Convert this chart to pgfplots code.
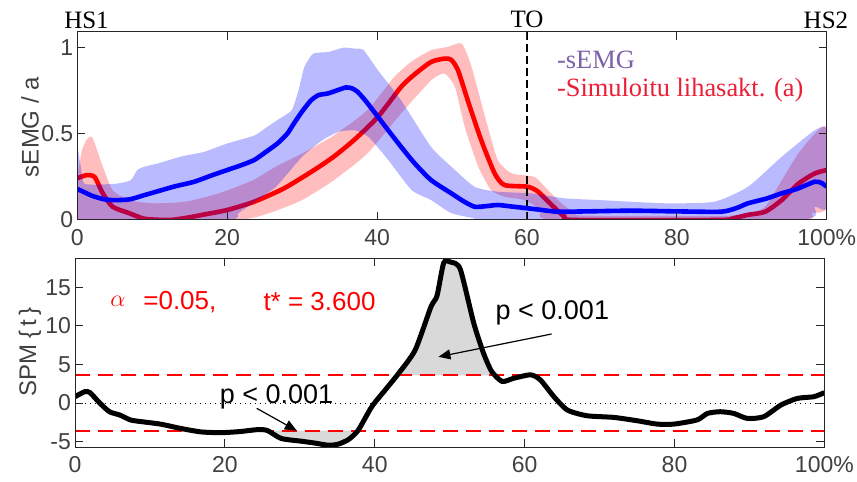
\documentclass[border=0pt]{standalone}
\usepackage{pgfplots}
\pgfplotsset{compat=1.18}
\usetikzlibrary{arrows.meta}
\usepackage{fontspec}
\setmainfont{Liberation Serif}
\newfontfamily\arial{Liberation Sans}
\definecolor{tickgray}{RGB}{64,64,64}
\definecolor{axgray}{RGB}{38,38,38}
\definecolor{semgpurple}{RGB}{125,95,170}
\definecolor{simred}{RGB}{235,30,55}
\definecolor{spmfill}{RGB}{217,217,217}
\definecolor{thrred}{RGB}{255,0,0}

\pgfplotstableread{
x y
0 0.18
1 0.16
2 0.14
3.6 0.12
5 0.115
7 0.12
9 0.145
11 0.17
13 0.195
15.6 0.222
18 0.26
20 0.29
22 0.32
23.6 0.348
25 0.39
26.7 0.444
28 0.50
28.9 0.56
30 0.63
31.2 0.695
32.2 0.725
33.4 0.734
34.5 0.75
35.8 0.769
36.6 0.765
37.4 0.744
38.5 0.69
40.1 0.60
41.5 0.52
43.2 0.425
45 0.33
47.2 0.232
49.9 0.155
51.5 0.11
53 0.077
54.5 0.08
56.1 0.087
58 0.078
60.1 0.068
62 0.058
64.1 0.048
68 0.05
73.9 0.054
80 0.05
85.9 0.048
88 0.07
89.5 0.097
92 0.125
94 0.155
96 0.18
98.4 0.222
99.3 0.215
100 0.193
}\semgmean

% sEMG band: upper edge forward, then lower edge backward
\pgfplotstableread{
x y
0 0.44
0.5 0.30
1 0.21
5 0.21
7.1 0.23
8 0.29
9 0.31
10.9 0.33
14 0.37
16.9 0.395
20 0.444
23.6 0.49
25 0.53
26.7 0.58
28.6 0.637
29.5 0.75
30.3 0.888
31.5 0.966
33.5 0.975
35.5 1.0
37 0.995
38.2 0.986
40.1 0.87
43.2 0.695
47.2 0.425
49.9 0.31
53 0.193
56.1 0.164
60.5 0.155
65 0.126
69.5 0.116
78.4 0.097
85 0.106
89.5 0.193
94 0.367
98.4 0.52
100 0.52
100 0.075
98.4 0.077
96 0
55 0
53 0.01
49.9 0.04
47.2 0.116
44.6 0.174
41.5 0.348
38.9 0.48
37.1 0.52
34.9 0.512
32.7 0.463
30 0.367
26.5 0.193
23.4 0.097
21.5 0.04
20 0
0 0
}\semgband

\pgfplotstableread{
x y
0 0.242
1.2 0.26
2.3 0.25
3.4 0.155
4.7 0.077
6.9 0.04
8.7 0.01
10 0.003
12.3 0
14.5 0.012
16.7 0.03
20 0.058
23.6 0.106
27.6 0.184
31.6 0.29
34.2 0.367
36.9 0.463
40.1 0.598
43.2 0.772
45 0.845
47.2 0.917
49 0.937
49.9 0.93
50.8 0.869
52.1 0.695
53.9 0.463
55.7 0.27
57 0.203
60.1 0.193
61.5 0.164
63.3 0.087
65 0.02
66.4 0
85.5 0
87.5 0.01
89.5 0.03
91.8 0.048
94 0.116
96.2 0.21
98.4 0.27
100 0.29
}\simmean

% simulated activation band: upper edge forward, then lower edge backward
\pgfplotstableread{
x y
0 0.25
0.6 0.40
1.2 0.463
2 0.48
3.4 0.31
4.7 0.174
6.9 0.116
10 0.097
14.4 0.106
18.9 0.155
23.4 0.23
26.5 0.31
30 0.386
34.2 0.49
38.7 0.637
42.3 0.83
44.6 0.92
47.2 0.985
49.4 1.004
51.3 1.024
52.6 0.89
54.4 0.60
56.1 0.348
58 0.27
61 0.25
62.8 0.174
64.6 0.097
66.4 0.04
68 0.025
88 0.025
90 0.04
91.8 0.077
94 0.23
96.2 0.386
98.4 0.50
100 0.53
100 0.077
98 0.04
96.2 0
63.7 0
61.9 0.058
59.7 0.116
57 0.135
55.2 0.174
53.5 0.31
51.7 0.54
50.4 0.772
49 0.85
47.2 0.81
43.2 0.618
38.7 0.386
34.2 0.23
30 0.116
25.6 0.04
21 0
0 0
}\simband

\pgfplotstableread{
x y
0 0.82
1.3 1.47
2.0 1.35
3.3 0
4.6 -1.13
6.0 -1.57
7.4 -2.2
8.7 -2.4
11.4 -2.74
14.1 -3.3
16.8 -3.75
19.5 -3.85
22.1 -3.7
24.4 -3.45
25.7 -3.58
27.5 -4.6
30.2 -4.96
32.0 -5.2
33.8 -5.48
35.1 -5.35
36.5 -4.74
37.8 -3.52
39.6 -0.48
41.4 1.7
43.2 3.87
45.4 6.9
47.5 12.5
48.3 13.9
49.2 18.2
50.1 18.3
51.4 17.4
53.2 10.4
54.5 6.5
55.6 4.1
57.0 2.8
58.5 3.2
60.8 3.66
62.1 3.0
63.9 0.83
65.7 -0.91
68.3 -1.65
71.9 -1.87
75.0 -2.3
77.7 -2.74
79.9 -2.74
83.0 -2.2
84.4 -1.35
86.1 -1.13
87.9 -1.35
89.7 -2.0
91.9 -1.78
94.2 -0.26
96.4 0.6
98.6 0.82
100 1.35
}\spm

\pgfplotstableread{
x y
43.0 3.6
43.2 3.87
45.4 6.9
47.5 12.5
48.3 13.9
49.2 18.2
50.1 18.3
51.4 17.4
53.2 10.4
54.5 6.5
55.6 4.1
56.0 3.6
}\clusterpos

\pgfplotstableread{
x y
25.9 -3.6
27.5 -4.6
30.2 -4.96
32.0 -5.2
33.8 -5.48
35.1 -5.35
36.5 -4.74
37.7 -3.6
}\clusterneg

\pgfplotstableread{
x lo hi
0 -3.6 3.6
100 -3.6 3.6
}\thresholds

\pgfplotsset{
  mystyle/.style={
    scale only axis, width=374.7pt,
    clip mode=individual,
    xmin=0, xmax=100,
    xtick={0,20,40,60,80,100}, xticklabels={0,20,40,60,80,100\%},
    tick align=inside, major tick length=4pt,
    tick style={axgray, line width=0.5pt},
    axis line style={axgray, line width=0.5pt},
    tick label style={font=\arial\fontsize{11.5}{13}\selectfont, text=tickgray},
    xticklabel style={yshift=-1pt},
    yticklabel style={xshift=1.5pt},
    axis on top,
  }
}

\begin{document}
\begin{tikzpicture}
\useasboundingbox (0pt,0pt) rectangle (428.5pt,241pt);

% ---------- top axis ----------
\begin{axis}[mystyle, at={(38.65pt,131pt)}, anchor=south west,
  height=94.15pt, ymin=0, ymax=1.093,
  ytick={0,0.5,1}, yticklabels={0,0.5,1}]
  \addplot [fill=red, fill opacity=0.26, draw=none, smooth, tension=0.35] table {\simband} -- cycle;
  \addplot [red, line width=2.3pt, smooth, tension=0.4] table {\simmean};
  \addplot [fill=blue, fill opacity=0.27, draw=none, smooth, tension=0.35] table {\semgband} -- cycle;
  \addplot [black, line width=1pt, dash pattern=on 4pt off 2pt] coordinates {(60,0) (60,1.093)};
  \addplot [blue, line width=2.3pt, smooth, tension=0.4] table {\semgmean};
  % annotations
  \node[font=\fontsize{12.5}{14}\selectfont] at (axis cs:1.23,1.16) {HS1};
  \node[font=\fontsize{12.5}{14}\selectfont] at (axis cs:60,1.165) {TO};
  \node[font=\fontsize{12.5}{14}\selectfont] at (axis cs:99.9,1.16) {HS2};
  \node[anchor=west, inner sep=0pt, text=semgpurple, font=\fontsize{13.2}{15}\selectfont] at (axis cs:63.97,0.929) {-sEMG};
  \node[anchor=west, inner sep=0pt, text=simred, font=\fontsize{13.2}{15}\selectfont] at (axis cs:63.97,0.754) {-Simuloitu lihasakt. (a)};
\end{axis}

% ---------- bottom axis ----------
\begin{axis}[mystyle, at={(37.5pt,17.35pt)}, anchor=south west,
  height=94.5pt, ymin=-5.75, ymax=18.79,
  ytick={-5,0,5,10,15}, yticklabels={-5,0,5,10,15}]
  \addplot [fill=spmfill, draw=none, smooth, tension=0.4] table {\clusterpos} -- cycle;
  \addplot [fill=spmfill, draw=none, smooth, tension=0.4] table {\clusterneg} -- cycle;
  \addplot [draw=thrred, line width=1pt, dash pattern=on 7.5pt off 4pt] table[x=x, y=lo] {\thresholds};
  \addplot [draw=thrred, line width=1pt, dash pattern=on 7.5pt off 4pt] table[x=x, y=hi] {\thresholds};
  \addplot [black, line width=0.5pt, dotted] coordinates {(0,0) (100,0)};
  \addplot [black, line width=2.5pt, smooth, tension=0.4] table {\spm};
  % annotations
  \node[anchor=west, inner sep=0pt, text=red, font=\fontsize{13}{15}\selectfont] at (axis cs:4.67,13.16) {$\alpha$};
  \node[anchor=west, inner sep=0pt, text=red, font=\arial\fontsize{13}{15}\selectfont] at (axis cs:9.07,13.16) {=0.05,};
  \node[anchor=west, inner sep=0pt, text=red, font=\arial\fontsize{13}{15}\selectfont] at (axis cs:25.1,13.16) {t* = 3.600};
  \node[font=\arial\fontsize{13.5}{15}\selectfont] at (axis cs:63.7,11.7) {p < 0.001};
  \node[font=\arial\fontsize{13.5}{15}\selectfont] at (axis cs:26.9,0.82) {p < 0.001};
  \draw[black, line width=0.6pt, -{Triangle[length=6pt,width=5pt]}] (axis cs:63.6,8.96) -- (axis cs:48.5,6.0);
  \draw[black, line width=0.6pt, -{Triangle[length=6pt,width=5pt]}] (axis cs:24.25,-0.69) -- (axis cs:29.6,-3.6);
\end{axis}

\node[rotate=90, text=tickgray, font=\arial\fontsize{12}{14}\selectfont] at (15pt,177.5pt) {sEMG / a};
\node[rotate=90, text=tickgray, font=\arial\fontsize{12}{14}\selectfont] at (15pt,65pt) {SPM \{\,t\,\}};
\end{tikzpicture}
\end{document}
